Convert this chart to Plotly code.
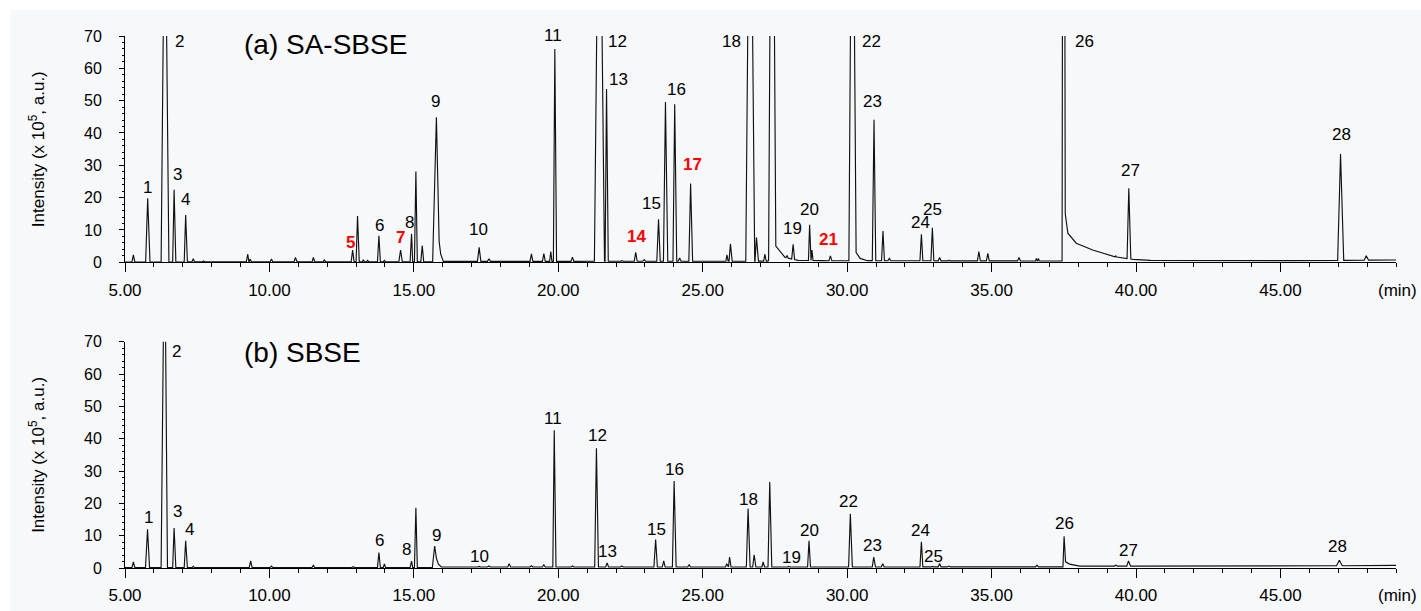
import numpy as np
import plotly.graph_objects as go

# ---------------- data ----------------
X_TICK0, X_DTICK, X_RANGE = 5, 5, [5, 49]
Y_DTICK, Y_RANGE = 10, [0, 70]

# Panel (a) SA-SBSE : peak apex time (min), apex intensity (x10^5), left / right base half-width (min)
A_RT = [5.29, 5.785, 6.38, 6.70, 7.10, 7.36, 7.72, 9.25, 9.33, 10.07, 10.90, 11.52, 11.90, 12.88, 13.05,
        13.25, 13.40, 13.79, 13.98, 14.54, 14.92, 15.07, 15.29, 15.78, 17.26, 17.60, 17.90, 19.07, 19.50,
        19.74, 19.88, 20.49, 21.42, 21.67, 22.20, 22.68, 22.97, 23.47, 23.71, 24.03, 24.20, 24.58, 25.84,
        25.96, 26.64, 26.86, 27.15, 27.40, 27.92, 28.13, 28.70, 28.78, 29.10, 29.42, 30.18, 30.93, 31.24,
        31.46, 32.57, 32.95, 33.20, 33.52, 34.56, 34.87, 35.70, 35.95, 36.55, 36.62, 37.49, 39.30, 39.75,
        41.89, 45.30, 47.08, 47.97]
A_H = [2.3, 19.8, 125, 22.4, 14.6, 1.1, 0.4, 2.5, 1.0, 1.0, 1.5, 1.5, 0.7, 3.8, 14.3,
       0.8, 0.6, 8.2, 0.6, 3.8, 8.8, 28.1, 5.2, 44.9, 4.6, 1.1, 0.5, 2.6, 2.7,
       3.3, 66.0, 1.6, 150, 53.6, 0.5, 3.1, 0.8, 13.3, 49.6, 48.9, 1.3, 24.4, 2.3,
       5.7, 155, 7.7, 2.5, 189, 2.1, 5.6, 11.6, 3.8, 0.6, 2.0, 159, 44.1, 9.7,
       1.2, 8.7, 10.7, 1.5, 0.6, 3.3, 2.8, 0.6, 1.5, 1.2, 1.2, 300, 2.0, 22.9,
       0.5, 0.3, 33.5, 2.0]
A_WL = [.05, .07, .13, .05, .05, .04, .05, .05, .03, .05, .05, .04, .05, .05, .05,
        .04, .04, .05, .04, .06, .05, .05, .05, .13, .06, .05, .05, .05, .05,
        .04, .05, .05, .17, .05, .05, .05, .05, .06, .07, .06, .05, .06, .04,
        .05, .15, .05, .04, .12, .04, .05, .04, .03, .05, .05, .12, .06, .05,
        .05, .05, .05, .05, .05, .05, .05, .05, .05, .03, .03, .05, .03, .06,
        .05, .06, .10, .07]
A_WR = [.05, .08, .14, .06, .06, .05, .05, .04, .05, .05, .06, .05, .05, .05, .06,
        .04, .04, .05, .04, .06, .04, .05, .05, .095, .06, .05, .05, .05, .05,
        .04, .06, .05, .18, .06, .05, .05, .05, .06, .08, .07, .05, .07, .04,
        .06, .16, .07, .05, .13, .04, .05, .04, .04, .05, .05, .13, .06, .05,
        .05, .05, .05, .05, .05, .05, .05, .05, .05, .03, .03, .06, .03, .07,
        .05, .06, .11, .08]
# baseline / tailing points of trace (a)
A_BG_T = [5.0, 15.65, 15.875, 15.93, 16.02, 20.0, 27.26, 27.53, 27.7, 27.85, 28.3, 30.05, 30.31, 30.45,
          30.7, 37.40, 37.44, 37.55, 37.64, 37.93, 38.5, 39.2, 39.9, 40.5, 45.0, 49.0]
A_BG_I = [0.1, 0.15, 6.4, 2.5, 0.3, 0.3, 0.35, 5.0, 3.0, 1.5, 0.6, 0.4, 3.0, 1.2,
          0.5, 0.4, 0.4, 15.0, 9.0, 5.9, 3.8, 1.8, 0.9, 0.6, 0.5, 0.7]

# Panel (b) SBSE
B_RT = [5.29, 5.78, 6.37, 6.70, 7.10, 7.36, 9.35, 10.07, 11.52, 12.90, 13.79, 13.98, 14.40, 14.92, 15.07,
        15.72, 17.26, 17.60, 18.30, 19.07, 19.50, 19.86, 20.49, 21.32, 21.69, 22.20, 23.37, 23.65, 24.01,
        24.53, 25.83, 25.93, 26.57, 26.78, 27.09, 27.32, 27.98, 28.68, 30.11, 30.92, 31.23, 31.63, 32.57,
        32.95, 33.20, 33.52, 36.57, 37.51, 39.30, 39.74, 41.90, 47.04]
B_H = [1.9, 12.0, 110, 12.4, 8.4, 0.5, 2.2, 0.6, 0.8, 0.4, 4.8, 1.3, 0.3, 2.1, 18.6,
       6.8, 0.5, 0.6, 1.3, 0.7, 1.0, 42.6, 0.6, 37.0, 1.6, 0.6, 8.8, 2.2, 26.9,
       1.0, 1.3, 3.4, 18.4, 4.1, 1.9, 26.6, 0.5, 8.4, 16.8, 3.4, 1.3, 0.5, 8.1,
       0.5, 1.4, 0.6, 0.9, 9.8, 0.9, 2.2, 0.6, 2.4]
B_WL = [.05, .07, .12, .05, .05, .04, .05, .05, .05, .05, .05, .04, .05, .05, .05,
        .08, .05, .05, .05, .05, .05, .05, .05, .06, .05, .05, .06, .05, .06,
        .05, .04, .04, .06, .05, .04, .06, .05, .05, .06, .05, .05, .05, .05,
        .04, .05, .05, .05, .04, .05, .06, .05, .10]
B_WR = [.05, .07, .10, .06, .06, .04, .05, .05, .05, .05, .05, .04, .05, .04, .05,
        .06, .05, .05, .05, .05, .05, .06, .05, .07, .05, .05, .06, .05, .07,
        .05, .04, .05, .07, .06, .05, .07, .05, .05, .07, .06, .05, .05, .05,
        .04, .05, .05, .05, .05, .05, .07, .05, .10]
B_BG_T = [5.0, 15.64, 15.78, 15.85, 15.95, 25.0, 37.47, 37.56, 37.7, 38.05, 45.0, 49.0]
B_BG_I = [0.1, 0.15, 3.0, 1.2, 0.3, 0.3, 0.35, 1.9, 1.2, 0.6, 0.6, 0.8]

# peak-number labels (text, time, intensity)
A_LBL = [str(i) for i in range(1, 29)]
A_LBL_X = [5.785, 6.90, 6.82, 7.10, 12.79, 13.82, 14.52, 14.86, 15.75, 17.25, 19.82, 22.05, 22.07, 22.71,
           23.23, 24.09, 24.64, 25.99, 28.12, 28.70, 29.37, 30.84, 30.89, 32.54, 32.97, 38.22, 39.80, 47.13]
A_LBL_Y = [23.2, 68.3, 27.3, 19.5, 6.2, 11.3, 7.7, 12.3, 49.7, 10.0, 70.1, 68.3, 56.5, 8.1,
           18.1, 53.6, 30.4, 68.3, 10.5, 16.4, 6.9, 68.3, 49.7, 12.3, 16.2, 68.3, 28.4, 39.4]
A_RED = ['5', '7', '14', '17', '21']

B_LBL = ['1', '2', '3', '4', '6', '8', '9', '10', '11', '12', '13', '15', '16', '18', '19', '20',
         '22', '23', '24', '25', '26', '27', '28']
B_LBL_X = [5.83, 6.79, 6.82, 7.22, 13.80, 14.75, 15.79, 17.26, 19.82, 21.36, 21.70, 23.40, 24.01, 26.60,
           28.07, 28.68, 30.06, 30.86, 32.54, 33.00, 37.53, 39.75, 46.96]
B_LBL_Y = [15.5, 67.1, 17.6, 12.0, 8.4, 5.7, 10.1, 3.6, 46.1, 40.9, 5.0, 12.0, 30.6, 21.3,
           3.4, 11.5, 20.7, 7.0, 11.7, 3.7, 13.9, 5.5, 6.7]

PANEL_TITLES = ['(a) SA-SBSE', '(b) SBSE']
Y_TITLE = 'Intensity (x 10<sup>5</sup>, a.u.)'
X_UNIT = '(min)'

for arrs in [(A_RT, A_H, A_WL, A_WR), (B_RT, B_H, B_WL, B_WR), (A_BG_T, A_BG_I), (B_BG_T, B_BG_I)]:
    assert len(set(map(len, arrs))) == 1, [len(a) for a in arrs]
assert len(A_LBL) == len(A_LBL_X) == len(A_LBL_Y)
assert len(B_LBL) == len(B_LBL_X) == len(B_LBL_Y)


def build(rt, h, wl, wr, bg_t, bg_i):
    spans = [(r - a, r + b) for r, a, b in zip(rt, wl, wr)]
    pts = []
    for t, v in zip(bg_t, bg_i):
        if not any(s0 + 1e-9 < t < s1 - 1e-9 for s0, s1 in spans):
            pts.append((t, v, 0))
    for r, hh, (s0, s1) in zip(rt, h, spans):
        pts.append((s0, float(np.interp(s0, bg_t, bg_i)), 0))
        pts.append((r, hh, 1))
        pts.append((s1, float(np.interp(s1, bg_t, bg_i)), 2))
    pts.sort(key=lambda p: (p[0], p[2]))
    return [p[0] for p in pts], [p[1] for p in pts]


FONT = 'Arial, Liberation Sans, sans-serif'
W, H = 1421, 611
ML, MR, MT, MB = 125, 25, 36, 43
PW, PH = W - ML - MR, H - MT - MB


def py2paper(py):
    return (H - MB - py) / PH


def px2paper(px):
    return (px - ML) / PW


fig = go.Figure()
xa, ya = build(A_RT, A_H, A_WL, A_WR, A_BG_T, A_BG_I)
xb, yb = build(B_RT, B_H, B_WL, B_WR, B_BG_T, B_BG_I)
fig.add_trace(go.Scatter(x=xa, y=ya, mode='lines', line=dict(color='#111111', width=1.15),
                         xaxis='x', yaxis='y', showlegend=False, hoverinfo='skip'))
fig.add_trace(go.Scatter(x=xb, y=yb, mode='lines', line=dict(color='#111111', width=1.15),
                         xaxis='x2', yaxis='y2', showlegend=False, hoverinfo='skip'))

xcommon = dict(range=X_RANGE, tickmode='linear', tick0=X_TICK0, dtick=X_DTICK, tickformat='.2f',
               ticks='outside', ticklen=9, tickwidth=1, tickcolor='black', automargin=False,
               showline=True, linecolor='black', linewidth=1, showgrid=False, zeroline=False,
               minor=dict(dtick=1, ticks='outside', ticklen=4, tickcolor='black', showgrid=False),
               tickfont=dict(family=FONT, size=17, color='black'), ticklabelstandoff=3)
ycommon = dict(range=Y_RANGE, tickmode='linear', tick0=0, dtick=Y_DTICK, automargin=False,
               ticks='outside', ticklen=5, tickwidth=1, tickcolor='black',
               showline=True, linecolor='black', linewidth=1, showgrid=False, zeroline=False,
               minor=dict(dtick=2, ticks='outside', ticklen=2.5, tickcolor='black', showgrid=False),
               tickfont=dict(family=FONT, size=16, color='black'), ticklabelstandoff=14)

top_dom = [py2paper(262.3), 1.0]
bot_dom = [0.0, py2paper(341.7)]
YSPAN = Y_RANGE[1] - Y_RANGE[0]

ann = []
for lbl, x, y in zip(A_LBL, A_LBL_X, A_LBL_Y):
    red = lbl in A_RED
    ann.append(dict(x=x, y=(y - Y_RANGE[0]) / YSPAN, xref='x', yref='y domain',
                    text=f'<b>{lbl}</b>' if red else lbl, showarrow=False,
                    xanchor='center', yanchor='middle',
                    font=dict(family=FONT, size=17, color='#ff0000' if red else 'black')))
for lbl, x, y in zip(B_LBL, B_LBL_X, B_LBL_Y):
    ann.append(dict(x=x, y=(y - Y_RANGE[0]) / YSPAN, xref='x2', yref='y2 domain', text=lbl, showarrow=False,
                    xanchor='center', yanchor='middle', font=dict(family=FONT, size=17, color='black')))
ann.append(dict(x=px2paper(242), y=py2paper(44), xref='paper', yref='paper', text=PANEL_TITLES[0],
                showarrow=False, xanchor='left', yanchor='middle', font=dict(family=FONT, size=28, color='black')))
ann.append(dict(x=px2paper(242), y=py2paper(352.5), xref='paper', yref='paper', text=PANEL_TITLES[1],
                showarrow=False, xanchor='left', yanchor='middle', font=dict(family=FONT, size=28, color='black')))
for yref in ['y domain', 'y2 domain']:
    ann.append(dict(x=px2paper(37), y=0.5, xref='paper', yref=yref, text=Y_TITLE, textangle=-90,
                    showarrow=False, xanchor='center', yanchor='middle',
                    font=dict(family=FONT, size=17, color='black')))
for py in [290, 595]:
    ann.append(dict(x=px2paper(1397.7), y=py2paper(py), xref='paper', yref='paper', text=X_UNIT,
                    showarrow=False, xanchor='center', yanchor='middle',
                    font=dict(family=FONT, size=17, color='black')))

fig.update_layout(
    width=W, height=H, autosize=False,
    margin=dict(l=ML, r=MR, t=MT, b=MB, pad=0),
    paper_bgcolor='white', plot_bgcolor='rgba(0,0,0,0)',
    xaxis=dict(domain=[0, 1], anchor='y', **xcommon),
    yaxis=dict(domain=top_dom, anchor='x', **ycommon),
    xaxis2=dict(domain=[0, 1], anchor='y2', **xcommon),
    yaxis2=dict(domain=bot_dom, anchor='x2', **ycommon),
    annotations=ann,
    shapes=[dict(type='rect', xref='paper', yref='paper', layer='below',
                 x0=px2paper(10), x1=px2paper(W + 5), y0=py2paper(H + 5), y1=py2paper(10),
                 fillcolor='#f7f8fa', line=dict(width=0))],
)

fig.write_html('out.html')
